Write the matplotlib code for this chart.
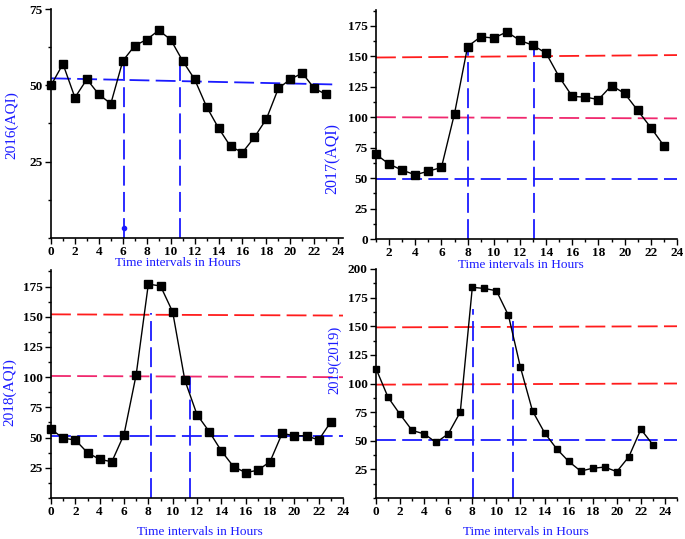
import numpy as np
import matplotlib.pyplot as plt
from matplotlib.ticker import MultipleLocator, FixedLocator

# hourly AQI
hours_2016 = list(range(0, 24))
aqi_2016 = [50, 57, 46, 52, 47, 44, 58, 63, 65, 68, 65, 58,
            52, 43, 36, 30, 28, 33, 39, 49, 52, 54, 49, 47]

hours_2017 = list(range(1, 24))
aqi_2017 = [69.5, 61.5, 56.5, 52.7, 55.7, 58.7, 103, 158, 166, 165, 170, 163,
            159, 152.5, 133, 117, 116.5, 114.5, 126, 119.5, 105.5, 91.5, 76.5]

hours_2018 = list(range(0, 24))
aqi_2018 = [57, 49.5, 48, 37.5, 32, 30, 52.5, 102, 177, 175.5, 154, 97.5,
            69, 55, 39, 26, 21, 23, 30, 53.5, 51.5, 51.5, 48, 63]

hours_2019 = list(range(0, 24))
aqi_2019 = [113, 88, 73, 59, 56, 48.5, 56, 75, 184, 183, 181, 159.5,
            114, 76, 57, 43, 32, 23.5, 26, 27, 23, 36, 60, 46.5]

# reference lines: (x0, x1, y0, y1, colour) and (x, top)
guides_2016_h = [(0, 23.5, 52.3, 50.3, 'blue')]
guides_2016_v = [(6.13, 59.5), (10.78, 57)]
guides_2017_h = [(1, 24, 149, 151, 'red'), (1, 24, 100, 99, 'pink'), (1, 24, 49.5, 49.5, 'blue')]
guides_2017_v = [(8.0, 158), (13.1, 160)]
guides_2018_h = [(0, 24, 152, 151, 'red'), (0, 24, 101, 100, 'pink'), (0, 24, 51, 51, 'blue')]
guides_2018_v = [(8.2, 153), (11.4, 100)]
guides_2019_h = [(0, 25, 149, 150, 'red'), (0, 25, 99, 100, 'red'), (0, 25, 51, 51, 'blue')]
guides_2019_v = [(8.05, 165), (11.4, 155)]

colors = {'red': '#ff1c1c', 'pink': '#f0286e', 'blue': '#1a1aff'}
plt.rcParams['font.family'] = ['Liberation Serif', 'DejaVu Serif']
plt.rcParams['font.weight'] = 'bold'
W, H = 685, 539
dash = (0, (11, 3.5))

fig = plt.figure(figsize=(W / 100, H / 100), dpi=100)


def add_panel(left, right, top, bottom):
    return fig.add_axes([left / W, 1 - bottom / H, (right - left) / W, (bottom - top) / H])


def style(ax, xlim, ylim, yticks, xticks):
    ax.set_xlim(*xlim)
    ax.set_ylim(*ylim)
    for s in ['top', 'right']:
        ax.spines[s].set_visible(False)
    for s in ['left', 'bottom']:
        ax.spines[s].set_linewidth(1.2)
    ax.xaxis.set_major_locator(FixedLocator(xticks))
    ax.xaxis.set_minor_locator(MultipleLocator(1))
    ax.yaxis.set_major_locator(FixedLocator(yticks))
    ax.yaxis.set_minor_locator(MultipleLocator(12.5))
    ax.tick_params(which='major', direction='out', length=4, width=1, labelsize=9.5, pad=2)
    ax.tick_params(which='minor', direction='out', length=2.5, width=1)


def draw(ax, hrs, vals, hlines, vlines, ms):
    for x0, x1, y0, y1, c in hlines:
        ax.plot([x0, x1], [y0, y1], color=colors[c], lw=1.3, ls=dash, zorder=1)
    for x, top in vlines:
        ax.plot([x, x], [0, top], color=colors['blue'], lw=1.3, ls=dash, zorder=1)
    ax.plot(hrs, vals, color='black', lw=1, marker='s', ms=ms, zorder=3, clip_on=False)


def labels(xlx, xly, ylab, ylx, yly, ylsize):
    fig.text(xlx / W, 1 - xly / H, 'Time intervals in Hours', fontweight='normal',
             color=colors['blue'], fontsize=9.5, ha='center', va='center')
    fig.text(ylx / W, 1 - yly / H, ylab, color=colors['blue'], fontweight='normal',
             fontsize=ylsize, rotation=90, ha='center', va='center')


# 2016
ax1 = add_panel(51, 343, 9, 238)
draw(ax1, hours_2016, aqi_2016, guides_2016_h, guides_2016_v, 6)
ax1.plot([guides_2016_v[0][0]], [3.4], 'o', color=colors['blue'], ms=3)
style(ax1, (0, 24.4), (0, 75), [25, 50, 75], list(range(0, 25, 2)))
labels(178, 263, '2016(AQI)', 12, 125, 11)

# 2017
ax2 = add_panel(376, 677, 10, 239)
draw(ax2, hours_2017, aqi_2017, guides_2017_h, guides_2017_v, 6)
style(ax2, (1, 24), (0, 188), list(range(0, 176, 25)), list(range(2, 25, 2)))
labels(521, 265, '2017(AQI)', 333, 158, 11.5)

# 2018
ax3 = add_panel(51, 343, 270, 498)
draw(ax3, hours_2018, aqi_2018, guides_2018_h, guides_2018_v, 5.5)
style(ax3, (0, 24), (0, 188.7), list(range(25, 176, 25)), list(range(0, 25, 2)))
labels(200, 532, '2018(AQI)', 10, 392, 11)

# 2019
ax4 = add_panel(376, 677, 269, 498)
draw(ax4, hours_2019, aqi_2019, guides_2019_h, guides_2019_v, 4.8)
style(ax4, (0, 25), (0, 200), list(range(25, 201, 25)), list(range(0, 25, 2)))
labels(526, 532, '2019(2019)', 335, 360, 10.5)

fig.savefig('out.png', dpi=100)
